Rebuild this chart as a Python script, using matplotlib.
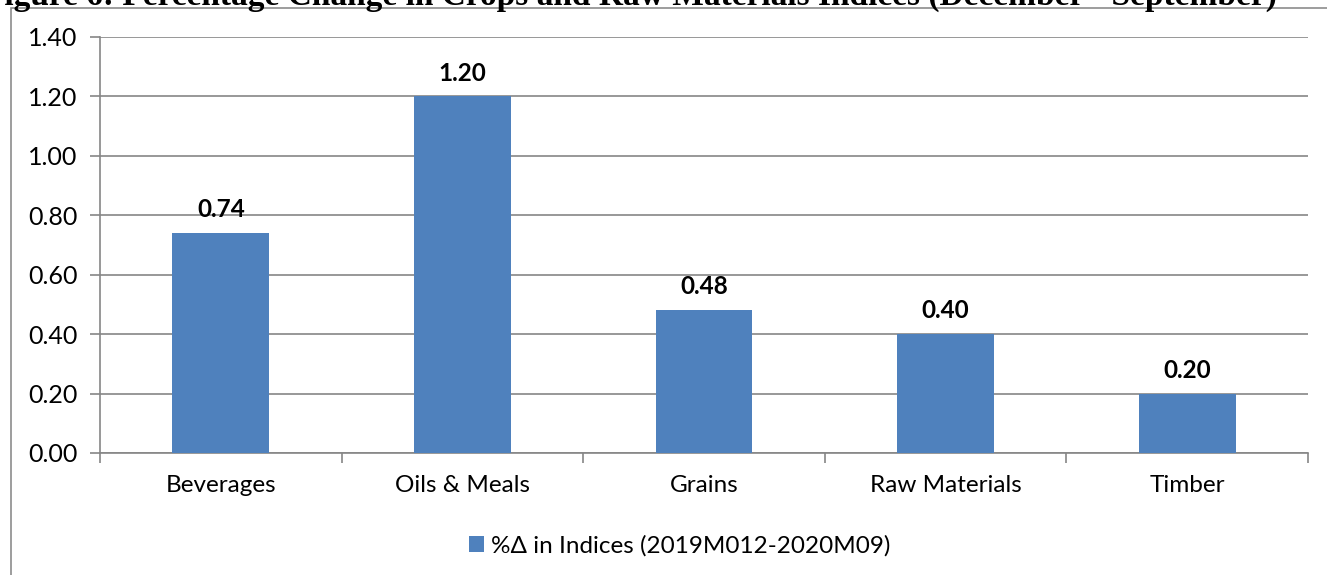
import matplotlib
matplotlib.use("Agg")
import matplotlib.pyplot as plt
from matplotlib.patches import Rectangle

categories = ["Beverages", "Oils & Meals", "Grains", "Raw Materials", "Timber"]
values = [0.74, 1.20, 0.48, 0.40, 0.20]
value_labels = ["0.74", "1.20", "0.48", "0.40", "0.20"]
yticks = [0.0, 0.2, 0.4, 0.6, 0.8, 1.0, 1.2, 1.4]
ytick_labels = ["0.00", "0.20", "0.40", "0.60", "0.80", "1.00", "1.20", "1.40"]
series_name = "%\u0394 in Indices (2019M012-2020M09)"
title = "Figure 6: Percentage Change in Crops and Raw Materials Indices (December - September)"

W, H = 1327, 575
fig = plt.figure(figsize=(W / 100, H / 100), dpi=100)
plt.rcParams['font.family'] = ['Lato', 'DejaVu Sans']

# outer chart border
fig.patches.append(Rectangle((11 / W, -0.1), 1.2, 1 - 8 / H + 0.1, transform=fig.transFigure,
                             fill=False, edgecolor="#8c8c8c", linewidth=1.2))
# clipped title (as in the reference, only its lower part is visible)
fig.text(-16 / W, 1 - 5 / H, title, family="Liberation Serif", fontweight="bold",
         fontsize=24, ha="left", va="baseline", color="black")

ax = fig.add_axes([100 / W, 1 - 453 / H, (1308 - 100) / W, (453 - 37) / H])
x = list(range(len(categories)))
ax.bar(x, values, width=0.4, color="#4F81BD", zorder=3, label=series_name)
for xi, v, lab in zip(x, values, value_labels):
    ax.text(xi, v + 0.04, lab, ha="center", va="bottom", fontsize=17.5, fontweight="bold")

ax.set_xlim(-0.5, len(categories) - 0.5)
ax.set_ylim(0, 1.4)
ax.set_yticks(yticks)
ax.set_yticklabels(ytick_labels, fontsize=18)
ax.yaxis.grid(True, color="#868686", linewidth=1.2, zorder=0)
ax.set_axisbelow(True)

ax.set_xticks(x)
ax.set_xticklabels(categories, fontsize=17.5)
ax.tick_params(axis="x", length=0, pad=16)
ax.set_xticks([i - 0.5 for i in range(len(categories) + 1)], minor=True)
ax.tick_params(axis="x", which="minor", length=7, color="#868686", width=1.2)
ax.tick_params(axis="y", length=7, color="#868686", width=1.2, pad=9)

for s in ["top", "right"]:
    ax.spines[s].set_visible(False)
for s in ["left", "bottom"]:
    ax.spines[s].set_color("#868686")
    ax.spines[s].set_linewidth(1.2)

handles, labels = ax.get_legend_handles_labels()
fig.legend(handles, labels, loc="center", bbox_to_anchor=(680 / W, 1 - 546 / H),
           frameon=False, fontsize=17.5, handlelength=0.6, handleheight=0.6,
           handletextpad=0.3)

fig.savefig("out.png", dpi=100)
